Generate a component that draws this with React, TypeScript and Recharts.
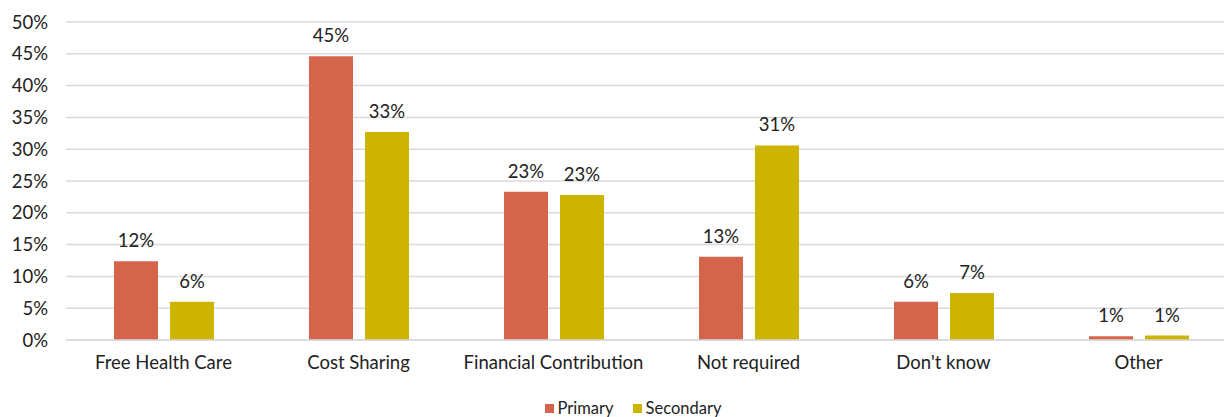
import { BarChart, Bar, XAxis, YAxis, CartesianGrid, Legend, LabelList } from 'recharts'

const categories = ['Free Health Care', 'Cost Sharing', 'Financial Contribution', 'Not required', "Don't know", 'Other']
const primary = [12.4, 44.6, 23.3, 13.1, 6.0, 0.6]
const secondary = [6.0, 32.7, 22.8, 30.6, 7.4, 0.7]
const yTicks = [0, 5, 10, 15, 20, 25, 30, 35, 40, 45, 50]

const rows = categories.map((name, i) => ({ name, primary: primary[i], secondary: secondary[i] }))

const font = 'Lato, "Open Sans", sans-serif'
const PRIMARY = '#D4644B'
const SECONDARY = '#CDB400'
const FS = 18.5

function LegendBox({ payload }: any) {
  return (
    <div style={{ display: 'flex', justifyContent: 'center', alignItems: 'center', gap: 19, fontFamily: font, fontSize: 16.5, color: '#222' }}>
      {(payload || []).map((p: any) => (
        <span key={p.value} style={{ display: 'inline-flex', alignItems: 'center' }}>
          <span style={{ display: 'inline-block', width: 9, height: 9, background: p.color, marginRight: 4 }} />
          {p.value}
        </span>
      ))}
    </div>
  )
}

export default function App() {
  return (
    <div style={{ position: 'absolute', left: 0, top: 0, width: 1224, height: 417, overflow: 'hidden', background: '#fff', fontFamily: font }}>
      <BarChart
        width={1240}
        height={417}
        data={rows}
        margin={{ top: 22, right: 4, left: 0, bottom: 4 }}
        barSize={44}
        barGap={12}
      >
        <CartesianGrid stroke="#d9d9d9" strokeWidth={1.5} vertical={false} />
        <XAxis
          dataKey="name"
          axisLine={{ stroke: '#d9d9d9', strokeWidth: 1.5 }}
          tickLine={false}
          tickSize={0}
          tickMargin={16}
          height={46}
          interval={0}
          tick={{ fill: '#222', fontSize: FS, fontFamily: font }}
        />
        <YAxis
          domain={[0, 50]}
          ticks={yTicks}
          axisLine={false}
          tickLine={false}
          tickSize={0}
          tickMargin={18}
          width={66}
          tickFormatter={(v) => `${v}%`}
          tick={{ fill: '#222', fontSize: FS, fontFamily: font }}
        />
        <Legend
          verticalAlign="bottom"
          height={27}
          content={<LegendBox />}
          wrapperStyle={{ top: 398, left: 0, width: 1266 }}
        />
        <Bar dataKey="primary" name="Primary" fill={PRIMARY} isAnimationActive={false}>
          <LabelList
            dataKey="primary"
            position="top"
            offset={14}
            formatter={(v: any) => `${Math.round(Number(v))}%`}
            style={{ fill: '#222', fontSize: FS, fontFamily: font }}
          />
        </Bar>
        <Bar dataKey="secondary" name="Secondary" fill={SECONDARY} isAnimationActive={false}>
          <LabelList
            dataKey="secondary"
            position="top"
            offset={14}
            formatter={(v: any) => `${Math.round(Number(v))}%`}
            style={{ fill: '#222', fontSize: FS, fontFamily: font }}
          />
        </Bar>
      </BarChart>
    </div>
  )
}
